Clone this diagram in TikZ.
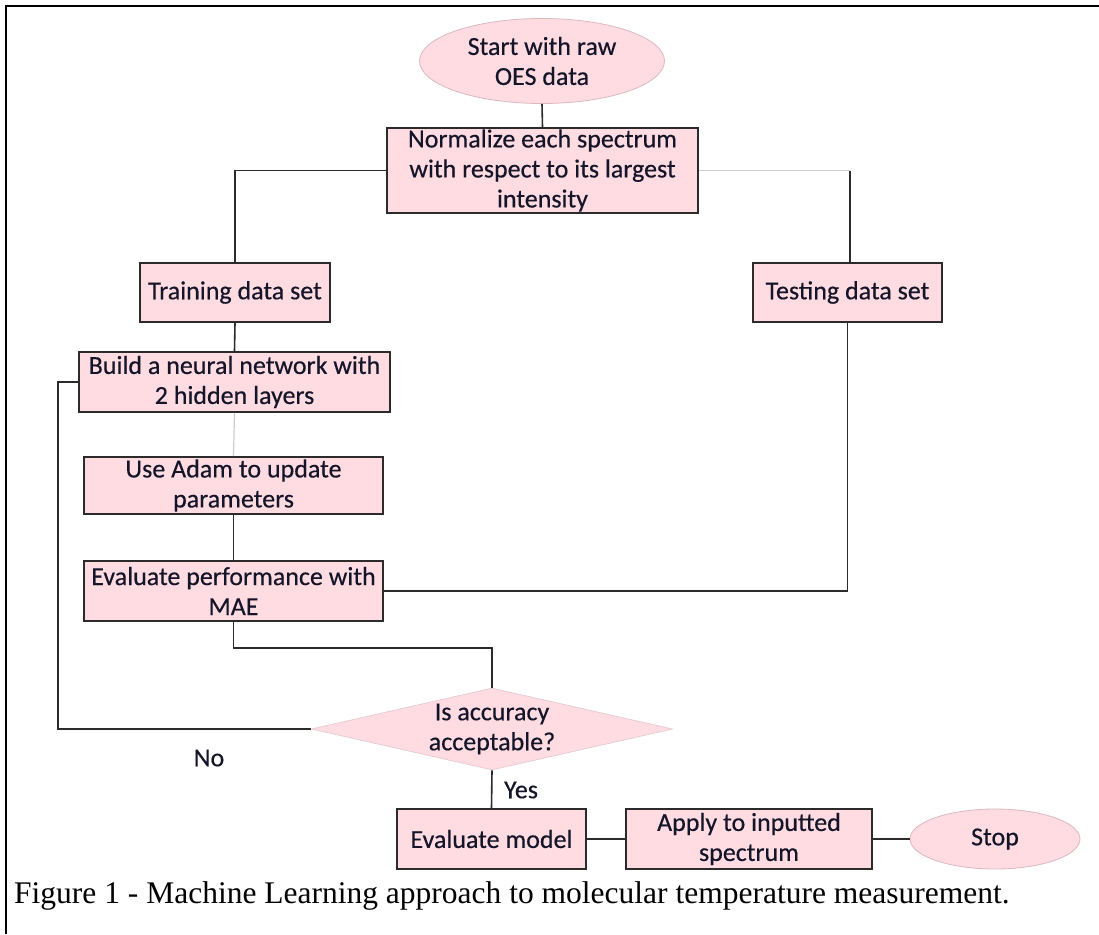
\documentclass[tikz,border=0pt]{standalone}
\usepackage{fontspec}
\usetikzlibrary{shapes.geometric}
\newfontfamily\boxfont[FakeBold=0.4]{Carlito}
\newfontfamily\capfont{Liberation Serif}
\definecolor{boxpink}{HTML}{FFDCE1}
\definecolor{boxline}{HTML}{2B2B2B}
\definecolor{ellline}{HTML}{D9B9BE}
\definecolor{txt}{HTML}{15152A}
\definecolor{lightline}{HTML}{CCCCCC}
\tikzset{
  base/.style={fill=boxpink, inner sep=0pt, align=center, text=txt,
    font=\boxfont\fontsize{26}{30}\selectfont},
  procbox/.style={base, draw=boxline, line width=1.8pt},
  termell/.style={base, ellipse, draw=ellline, line width=0.8pt},
  decdia/.style={base, diamond, aspect=4.4, draw=ellline!70, line width=0.8pt},
  conn/.style={draw=boxline, line width=1.6pt},
  lconn/.style={draw=lightline, line width=1.2pt},
  lbl/.style={inner sep=0pt, text=txt, font=\boxfont\fontsize{26}{30}\selectfont},
}
\begin{document}
\begin{tikzpicture}[x=1pt, y=-1pt]
\useasboundingbox (0,0) rectangle (1099,934);
% border (left and top visible)
\draw[line width=2.4pt] (6,934) -- (6,6) -- (1099,6);

\node[termell, minimum width=245pt, minimum height=85pt] (start) at (542,61) {Start with raw\\OES data};
\node[procbox, minimum width=311pt, minimum height=85pt] (norm) at (542.5,170.5) {Normalize each spectrum\\with respect to its largest\\intensity};
\node[procbox, minimum width=190pt, minimum height=59pt] (train) at (235,292.5) {Training data set};
\node[procbox, minimum width=189pt, minimum height=59pt] (test) at (847.5,292.5) {Testing data set};
\node[procbox, minimum width=311pt, minimum height=60pt] (build) at (234.5,382) {Build a neural network with\\2 hidden layers};
\node[procbox, minimum width=299pt, minimum height=57pt] (adam) at (233.5,485.5) {Use Adam to update\\parameters};
\node[procbox, minimum width=299pt, minimum height=60pt] (evalp) at (233.5,591) {Evaluate performance with\\MAE};
\node[decdia, minimum width=361pt, minimum height=82pt] (dec) at (492,729) {};
\node[lbl, align=center] (dectxt) at (492,729) {Is accuracy\\acceptable?};
\node[procbox, minimum width=189pt, minimum height=60pt] (evalm) at (491.5,839) {Evaluate model};
\node[procbox, minimum width=246pt, minimum height=60pt] (apply) at (749,839) {Apply to inputted\\spectrum};
\node[termell, minimum width=170pt, minimum height=60pt] (stop) at (995,839) {Stop};

\node[lbl] (no) at (209,758) {No};
\node[lbl] (yes) at (521,790) {Yes};

\node[anchor=base west, inner sep=0pt, font=\capfont\fontsize{31.5}{36}\selectfont] (cap) at (14,903) {Figure 1 - Machine Learning approach to molecular temperature measurement.};

\coordinate (c1) at (850,170.5);
\coordinate (j) at (492,648);
\coordinate (lp) at (58,729);

\draw[conn] (start.south) -- (norm.north);
\draw[conn] (norm.west) -| (train.north);
\draw[lconn] (norm.east) -- (c1);
\draw[conn] (c1) -- (c1 |- test.north);
\draw[conn] (train.south) -- (build.north);
\draw[lconn] (build.south) -- (adam.north);
\draw[conn] (adam.south) -- (evalp.north);
\draw[conn] (evalp.east) -| (test.south);
\draw[conn] (evalp.south) |- (j) -- (dec.north);
\draw[conn] (build.west) -| (lp) -- (dec.west);
\draw[conn] (dec.south) -- (evalm.north);
\draw[conn] (evalm.east) -- (apply.west);
\draw[conn] (apply.east) -- (stop.west);
\end{tikzpicture}
\end{document}
